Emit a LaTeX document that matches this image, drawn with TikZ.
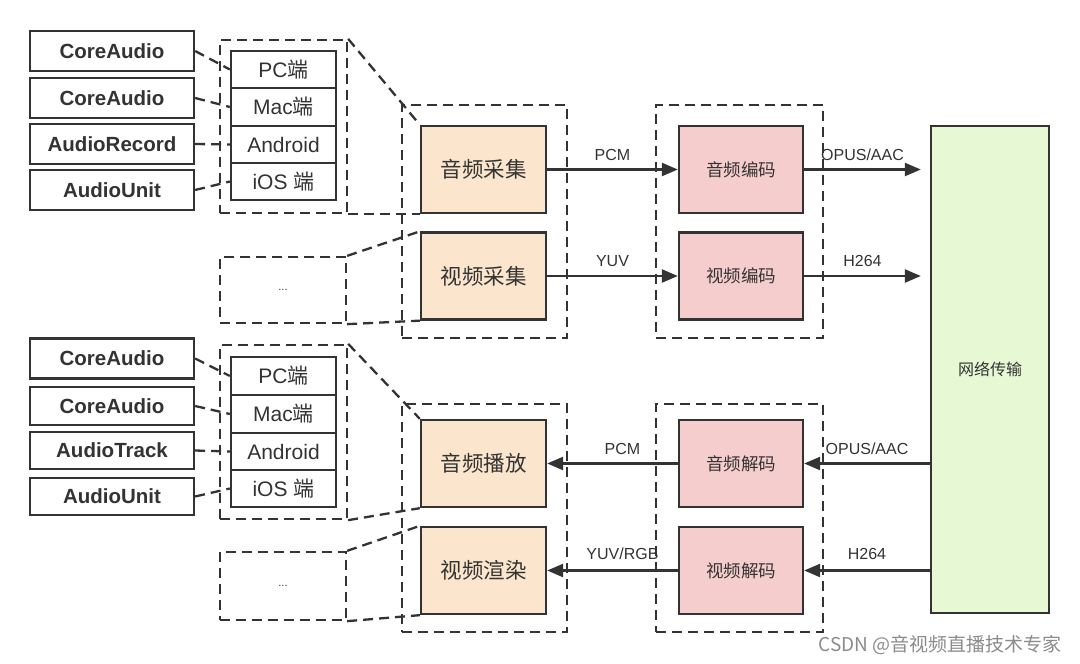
\documentclass[tikz,border=0pt]{standalone}
\usepackage{fontspec}
\setmainfont{Liberation Sans}
\newfontfamily\cjk{Noto Sans CJK SC}
\usetikzlibrary{arrows.meta}
\definecolor{ink}{HTML}{333333}
\definecolor{peach}{HTML}{FBE6CD}
\definecolor{pinkf}{HTML}{F6CDCD}
\definecolor{greenf}{HTML}{E7F8D5}
\tikzset{
  solidbox/.style={draw=ink, line width=2.3pt, inner sep=0pt, text=ink},
  plat/.style={solidbox, minimum width=164pt, minimum height=40pt, font=\fontsize{20.5}{22}\selectfont\bfseries},
  row/.style={solidbox, minimum width=105pt, font=\fontsize{21}{23}\selectfont},
  grp/.style={draw=ink, line width=2.3pt, dash pattern=on 10pt off 6pt, inner sep=0pt},
  dl/.style={draw=ink, line width=2.3pt, dash pattern=on 10pt off 6pt},
  capbox/.style={solidbox, fill=peach, minimum width=125pt, minimum height=87pt, font=\cjk\fontsize{21.5}{23}\selectfont},
  codbox/.style={solidbox, fill=pinkf, minimum width=124pt, minimum height=87pt, font=\cjk\fontsize{17.5}{19}\selectfont},
  arr/.style={draw=ink, line width=2.3pt, -{Triangle[length=16pt,width=13pt]}},
  lab/.style={font=\fontsize{16}{18}\selectfont, text=ink, inner sep=2pt},
}
\begin{document}
\begin{tikzpicture}[x=1pt,y=-1pt]
\useasboundingbox (0,0) rectangle (1080,664);
\fill[white] (0,0) rectangle (1080,664);

% ---------- upper platform group ----------
\node[grp, minimum width=127pt, minimum height=173pt] (g1) at (283.5,126.5) {};
\node[plat] (a1) at (112,51) {CoreAudio};
\node[plat] (a2) at (112,98) {CoreAudio};
\node[plat] (a3) at (112,144) {AudioRecord};
\node[plat] (a4) at (112,190) {AudioUnit};
\node[row, minimum height=37pt] (r1) at (283.5,69.5) {PC{\cjk 端}};
\node[row, minimum height=38pt] (r2) at (283.5,107) {Mac{\cjk 端}};
\node[row, minimum height=37pt] (r3) at (283.5,144.5) {Android};
\node[row, minimum height=37pt] (r4) at (283.5,181.5) {iOS {\cjk 端}};
\draw[dl] (a1.east) -- (r1.west);
\draw[dl] (a2.east) -- (r2.west);
\draw[dl] (a3.east) -- (r3.west);
\draw[dl] (a4.east) -- (r4.west);

% ---------- upper ellipsis ----------
\node[grp, minimum width=126pt, minimum height=66pt, font=\fontsize{11}{12}\selectfont, text=ink] (e1) at (283,290) {...};

% ---------- lower platform group ----------
\node[grp, minimum width=127pt, minimum height=174pt] (g2) at (283.5,432) {};
\node[plat] (b1) at (112,358.5) {CoreAudio};
\node[plat, minimum height=38pt] (b2) at (112,406) {CoreAudio};
\node[plat, minimum height=37pt] (b3) at (112,450.5) {AudioTrack};
\node[plat, minimum height=37pt] (b4) at (112,496.5) {AudioUnit};
\node[row, minimum height=38pt] (s1) at (283.5,376) {PC{\cjk 端}};
\node[row, minimum height=38pt] (s2) at (283.5,414) {Mac{\cjk 端}};
\node[row, minimum height=37pt] (s3) at (283.5,451.5) {Android};
\node[row, minimum height=37pt] (s4) at (283.5,488.5) {iOS {\cjk 端}};
\draw[dl] (b1.east) -- (s1.west);
\draw[dl] (b2.east) -- (s2.west);
\draw[dl] (b3.east) -- (s3.west);
\draw[dl] (b4.east) -- (s4.west);

% ---------- lower ellipsis ----------
\node[grp, minimum width=126pt, minimum height=68pt, font=\fontsize{11}{12}\selectfont, text=ink] (e2) at (283,586) {...};

% ---------- groups of processing ----------
\node[grp, minimum width=165pt, minimum height=233pt] (gc) at (484.5,221.5) {};
\node[grp, minimum width=167pt, minimum height=233pt] (ge) at (739.5,221.5) {};
\node[grp, minimum width=165pt, minimum height=228pt] (gp) at (484.5,518) {};
\node[grp, minimum width=167pt, minimum height=228pt] (gd) at (739.5,518) {};

\node[capbox] (ac) at (483.5,169.5) {音频采集};
\node[capbox] (vc) at (483.5,276) {视频采集};
\node[codbox] (ae) at (741,169.5) {音频编码};
\node[codbox] (ve) at (741,276) {视频编码};
\node[capbox] (ap) at (483.5,463.5) {音频播放};
\node[capbox] (vr) at (483.5,570.5) {视频渲染};
\node[codbox] (ad) at (741,463.5) {音频解码};
\node[codbox] (vd) at (741,570.5) {视频解码};

\node[solidbox, fill=greenf, minimum width=118pt, minimum height=487pt, font=\cjk\fontsize{16}{18}\selectfont] (net) at (990,369.5) {网络传输};

% ---------- zoom lines ----------
\draw[dl] (g1.north east) -- (ac.north west);
\draw[dl] (g1.south east) -- (ac.south west);
\draw[dl] (e1.north east) -- (vc.north west);
\draw[dl] (e1.south east) -- (vc.south west);
\draw[dl] (g2.north east) -- (ap.north west);
\draw[dl] (g2.south east) -- (ap.south west);
\draw[dl] (e2.north east) -- (vr.north west);
\draw[dl] (e2.south east) -- (vr.south west);

% ---------- arrows ----------
\coordinate (n1) at ([xshift=-9pt]net.west |- ae.east);
\coordinate (n2) at ([xshift=-9pt]net.west |- ve.east);
\draw[arr] (ac.east) -- node[lab, above=6pt] {PCM} (ae.west);
\draw[arr] (vc.east) -- node[lab, above=6pt] {YUV} (ve.west);
\draw[arr] (ae.east) -- node[lab, above=6pt] {OPUS/AAC} (n1);
\draw[arr] (ve.east) -- node[lab, above=6pt] {H264} (n2);

\draw[arr] (net.west |- ad.east) -- node[lab, above=6pt] {OPUS/AAC} (ad.east);
\draw[arr] (net.west |- vd.east) -- node[lab, above=8pt] {H264} (vd.east);
\draw[arr] (ad.west) -- node[lab, above=6pt, xshift=10pt] {PCM} (ap.east);
\draw[arr] (vd.west) -- node[lab, above=8pt, xshift=10pt] {YUV/RGB} (vr.east);

% ---------- watermark ----------
\node[font=\cjk\fontsize{19}{21}\selectfont, text=black!45, inner sep=0pt] (wm) at (940,645) {CSDN @音视频直播技术专家};
\end{tikzpicture}
\end{document}
